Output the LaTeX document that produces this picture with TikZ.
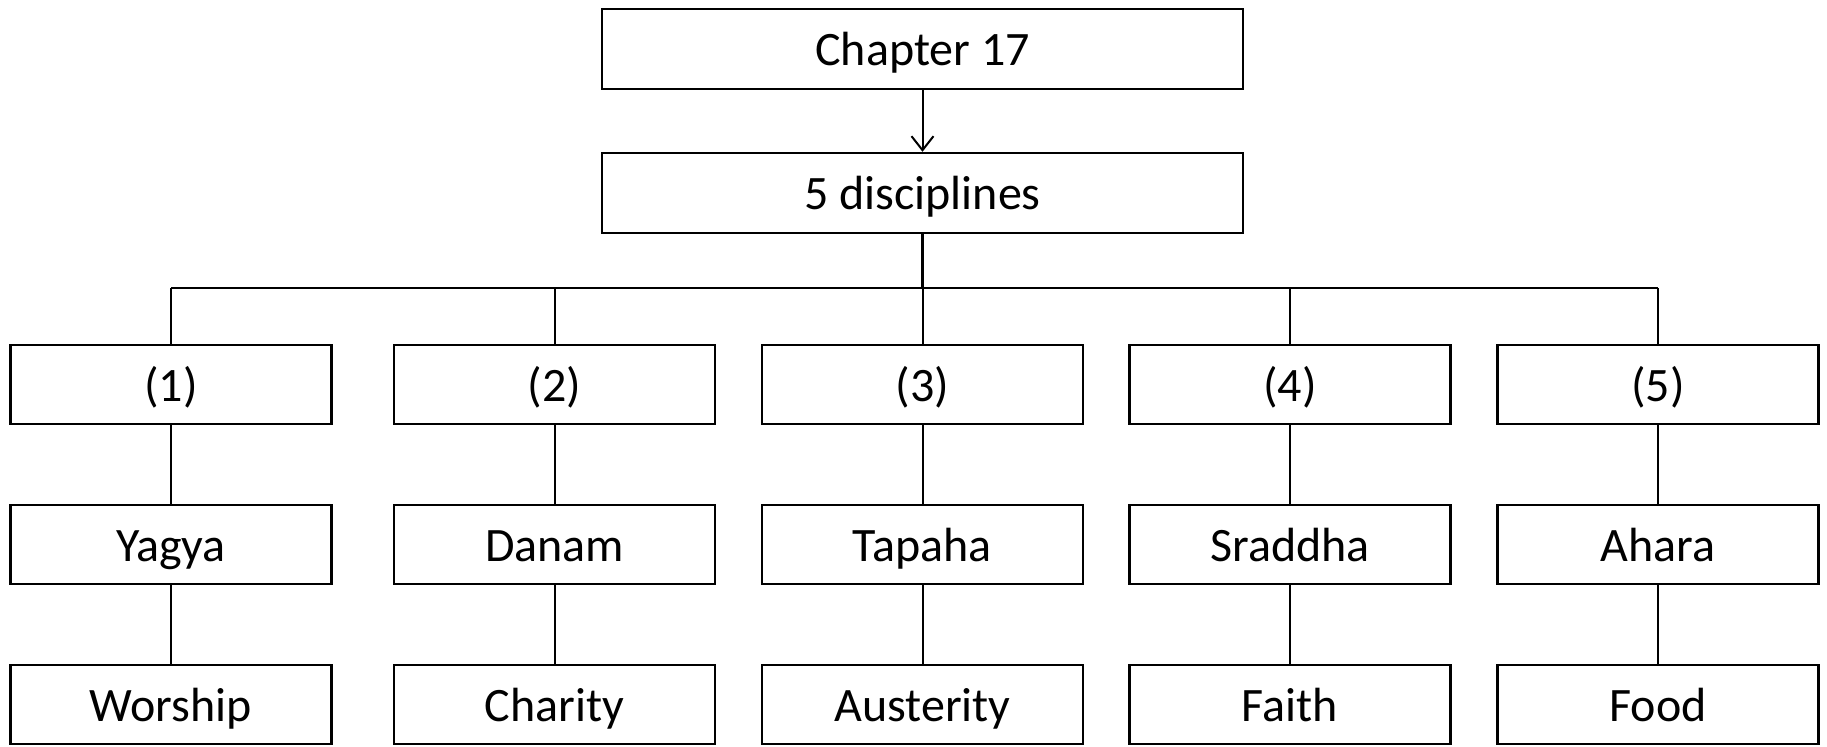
\documentclass[tikz,border=0pt]{standalone}
\usepackage{fontspec}
\setmainfont{Carlito}
\usetikzlibrary{arrows.meta}
\begin{document}
\begin{tikzpicture}[x=0.5pt,y=-0.5pt,
  box/.style={draw=black,line width=1.2pt,minimum width=160.5pt,minimum height=39.5pt,inner sep=0pt,text height=19.8pt,text depth=3pt,font=\fontsize{24}{28}\selectfont},
  topbox/.style={box,minimum width=320.5pt,minimum height=40pt},
  link/.style={draw=black,line width=1pt}]
\useasboundingbox (0,0) rectangle (1827,747);
\node[topbox] (ch) at (922.5,49) {Chapter 17};
\node[topbox] (dis) at (922.5,193) {5 disciplines};
\draw[link,-{Straight Barb[length=7pt,width=11pt,line width=1pt]}] (ch) -- (dis);
\coordinate (bar) at (922.5,288);
\foreach \i/\x/\a/\b/\c in {1/171/Yagya/Worship/(1),2/554.6/Danam/Charity/(2),3/922.5/Tapaha/Austerity/(3),4/1290/Sraddha/Faith/(4),5/1658/Ahara/Food/(5)}{
  \node[box] (n\i) at (\x,384.5) {\c};
  \node[box] (s\i) at (\x,544.5) {\a};
  \node[box] (e\i) at (\x,704.5) {\b};
  \draw[link] (n\i) -- (s\i);
  \draw[link] (s\i) -- (e\i);
  \coordinate (t\i) at (\x,288);
  \draw[link] (t\i) -- (n\i);
}
\draw[link] (t1) -- (t5);
\draw[link,line width=1.4pt] (dis) -- (bar);
\end{tikzpicture}
\end{document}
